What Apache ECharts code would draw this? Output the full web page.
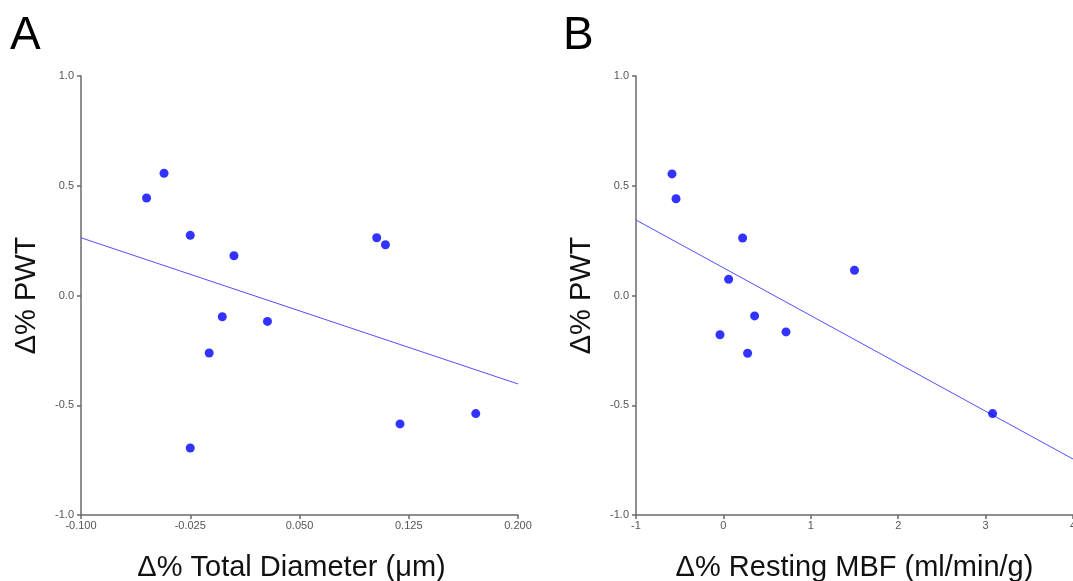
<!DOCTYPE html>
<html>
<head>
<meta charset="utf-8">
<script src="https://cdn.jsdelivr.net/npm/echarts@6/dist/echarts.min.js"></script>
<style>
  html, body { margin: 0; padding: 0; background: #fff; }
  #chart { width: 1073px; height: 581px; }
</style>
</head>
<body>
<div id="chart"></div>
<script>
// Panel A: change in total diameter vs change in PWT
const diameterX = [-0.043, -0.055, -0.025, 0.005, -0.003, 0.028, -0.012, 0.103, 0.109, 0.119, 0.171, -0.025];
const diameterY = [0.557, 0.444, 0.274, 0.181, -0.097, -0.118, -0.262, 0.263, 0.231, -0.585, -0.538, -0.695];
const diameterFitX = [-0.1, 0.2];
const diameterFitY = [0.263, -0.403];
const diameterTicks = [-0.1, -0.025, 0.05, 0.125, 0.2];

// Panel B: change in resting MBF vs change in PWT
const mbfX = [-0.588, -0.542, 0.22, 0.06, 1.50, 0.357, -0.039, 0.716, 0.277, 3.08];
const mbfY = [0.554, 0.441, 0.262, 0.074, 0.115, -0.093, -0.179, -0.166, -0.263, -0.538];
const mbfFitX = [-1, 4];
const mbfFitY = [0.344, -0.745];
const mbfTicks = [-1, 0, 1, 2, 3, 4];

const zip = (xs, ys) => xs.map((x, i) => [x, ys[i]]);

const axisColor = '#6a6a6a';
const labelColor = '#555';
const fontFamily = '"Liberation Sans", Arial, sans-serif';

function xAxis(gridIndex, ticks, digits, name, shift) {
  return {
    type: 'value', gridIndex,
    min: ticks[0], max: ticks[ticks.length - 1],
    name, nameLocation: 'middle', nameGap: 38,
    nameTextStyle: { fontSize: 29, color: '#111', fontFamily, padding: [0, shift, 0, 0] },
    axisLine: { show: true, onZero: false, lineStyle: { color: axisColor, width: 1.5 } },
    axisTick: { show: true, length: 4, customValues: ticks, lineStyle: { color: axisColor, width: 1.5 } },
    axisLabel: { customValues: ticks, fontSize: 11, color: labelColor, fontFamily, margin: 5,
                 formatter: v => Number(v).toFixed(digits), showMinLabel: true, showMaxLabel: true,
                 hideOverlap: false },
    splitLine: { show: false }
  };
}

function yAxis(gridIndex) {
  return {
    type: 'value', gridIndex, min: -1, max: 1, interval: 0.5,
    name: 'Δ% PWT', nameLocation: 'middle', nameGap: 40, nameRotate: 90,
    nameTextStyle: { fontSize: 29, color: '#111', fontFamily },
    axisLine: { show: true, onZero: false, lineStyle: { color: axisColor, width: 1.5 } },
    axisTick: { show: true, length: 4, lineStyle: { color: axisColor, width: 1.5 } },
    axisLabel: { fontSize: 11, color: labelColor, fontFamily, margin: 7,
                 formatter: v => Number(v).toFixed(1) },
    splitLine: { show: false }
  };
}

const dotStyle = { color: '#0000ff' };
const fitStyle = { color: '#5050ff', width: 1 };

const option = {
  backgroundColor: '#fff',
  animation: false,
  graphic: [
    { type: 'text', left: 10, top: 13, style: { text: 'A', fontSize: 46, fontFamily, fill: '#000' } },
    { type: 'text', left: 563, top: 13, style: { text: 'B', fontSize: 46, fontFamily, fill: '#000' } }
  ],
  grid: [
    { left: 81, top: 76, width: 437, height: 439, outerBoundsMode: 'none', containLabel: false },
    { left: 636, top: 76, width: 437, height: 439, outerBoundsMode: 'none', containLabel: false }
  ],
  xAxis: [
    xAxis(0, diameterTicks, 3, 'Δ% Total Diameter (μm)', 16),
    xAxis(1, mbfTicks, 0, 'Δ% Resting MBF (ml/min/g)', 0)
  ],
  yAxis: [yAxis(0), yAxis(1)],
  series: [
    { type: 'line', xAxisIndex: 0, yAxisIndex: 0, data: zip(diameterFitX, diameterFitY),
      showSymbol: false, lineStyle: fitStyle, z: 1 },
    { type: 'scatter', xAxisIndex: 0, yAxisIndex: 0, data: zip(diameterX, diameterY),
      symbolSize: 9, itemStyle: dotStyle, z: 2 },
    { type: 'line', xAxisIndex: 1, yAxisIndex: 1, data: zip(mbfFitX, mbfFitY),
      showSymbol: false, lineStyle: fitStyle, z: 1 },
    { type: 'scatter', xAxisIndex: 1, yAxisIndex: 1, data: zip(mbfX, mbfY),
      symbolSize: 9, itemStyle: dotStyle, z: 2 }
  ]
};

echarts.init(document.getElementById('chart'), null, { renderer: 'canvas' }).setOption(option);
</script>
</body>
</html>
